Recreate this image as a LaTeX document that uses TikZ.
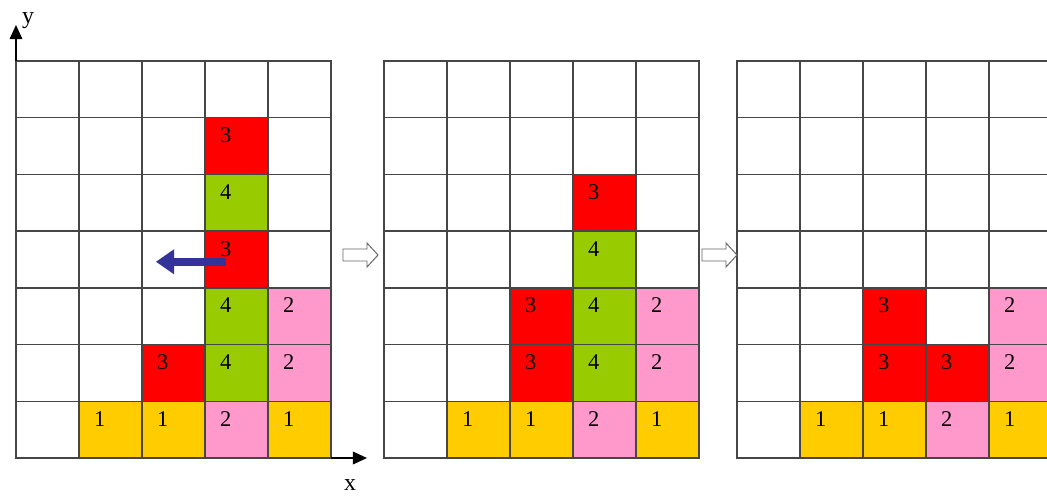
\documentclass[tikz,border=0pt]{standalone}
\usepackage{fontspec}
\setmainfont{Liberation Serif}
\usetikzlibrary{arrows.meta}

\definecolor{cellred}{RGB}{255,0,0}
\definecolor{cellgreen}{RGB}{153,204,0}
\definecolor{cellpink}{RGB}{255,153,204}
\definecolor{cellyellow}{RGB}{255,204,0}
\definecolor{movearrow}{RGB}{51,51,153}
\definecolor{gridline}{RGB}{70,70,70}

\newcommand*{\cellw}{1.575cm}
\newcommand*{\cellh}{1.4175cm}
\newcommand*{\boardlines}{%
	\foreach \i in {0,...,5} {\draw[gridlines] (\i,0) -- (\i,7);}
	\foreach \j in {0,...,7} {\draw[gridlines] (0,\j) -- (5,\j);}
}

\begin{document}
\begin{tikzpicture}
[
	x=0.025cm, y=-0.025cm,
	gridlines/.style={gridline,line width=1pt,line cap=rect},
	tile/.style={inner sep=0pt,font=\fontsize{16}{18}\selectfont},
	axislabel/.style={inner sep=0pt,font=\fontsize{17}{19}\selectfont},
	axis/.style={-{Triangle[length=10pt,width=9pt]},line width=0.9pt},
	stepsign/.style={draw=black!60,fill=white,line width=0.7pt,line join=miter},
	moveleft/.style={movearrow,line width=5.5pt,-{Triangle[length=13pt,width=17pt]}}
]

	\clip (0,0) rectangle (1047,495);

	% first state
	\begin{scope}[shift={(16,458)},x=\cellw,y=\cellh]
		\foreach \c/\r/\col/\lab in {1/0/cellyellow/1,2/0/cellyellow/1,3/0/cellpink/2,4/0/cellyellow/1,
			2/1/cellred/3,3/1/cellgreen/4,4/1/cellpink/2,3/2/cellgreen/4,4/2/cellpink/2,
			3/3/cellred/3,3/4/cellgreen/4,3/5/cellred/3}
		{
			\fill[\col] (\c,\r) rectangle ++(1,1);
			\node[tile] (a-\c-\r) at (\c+0.33,\r+0.69) {\lab};
		}
		\boardlines
		\coordinate (origin) at (0,0);
		\coordinate (top) at (0,7);
		\coordinate (right) at (5,0);
		\coordinate (movefrom) at (3.33,3.46);
		\coordinate (moveto) at (2.22,3.46);
	\end{scope}

	% axes
	\coordinate (ytip) at (16,25);
	\coordinate (xtip) at (367,458);
	\draw[axis] (top) -- (ytip);
	\draw[axis] (right) -- (xtip);
	\node[axislabel] (ylab) at (28,21) {y};
	\node[axislabel] (xlab) at (350,485) {x};

	% move of the top block
	\draw[moveleft] (movefrom) -- (moveto);

	% second state
	\begin{scope}[shift={(384,458)},x=\cellw,y=\cellh]
		\foreach \c/\r/\col/\lab in {1/0/cellyellow/1,2/0/cellyellow/1,3/0/cellpink/2,4/0/cellyellow/1,
			2/1/cellred/3,3/1/cellgreen/4,4/1/cellpink/2,2/2/cellred/3,3/2/cellgreen/4,4/2/cellpink/2,
			3/3/cellgreen/4,3/4/cellred/3}
		{
			\fill[\col] (\c,\r) rectangle ++(1,1);
			\node[tile] (b-\c-\r) at (\c+0.33,\r+0.69) {\lab};
		}
		\boardlines
	\end{scope}

	% third state
	\begin{scope}[shift={(737,458)},x=\cellw,y=\cellh]
		\foreach \c/\r/\col/\lab in {1/0/cellyellow/1,2/0/cellyellow/1,3/0/cellpink/2,4/0/cellyellow/1,
			2/1/cellred/3,3/1/cellred/3,4/1/cellpink/2,2/2/cellred/3,4/2/cellpink/2}
		{
			\fill[\col] (\c,\r) rectangle ++(1,1);
			\node[tile] (c-\c-\r) at (\c+0.33,\r+0.69) {\lab};
		}
		\boardlines
	\end{scope}

	% hollow arrows between the states
	\foreach \xs in {343,702}
	{
		\draw[stepsign,shift={(\xs,255)}] (0,-6) -- (24,-6) -- (24,-12) -- (35,0)
			-- (24,12) -- (24,6) -- (0,6) -- cycle;
	}

\end{tikzpicture}
\end{document}
